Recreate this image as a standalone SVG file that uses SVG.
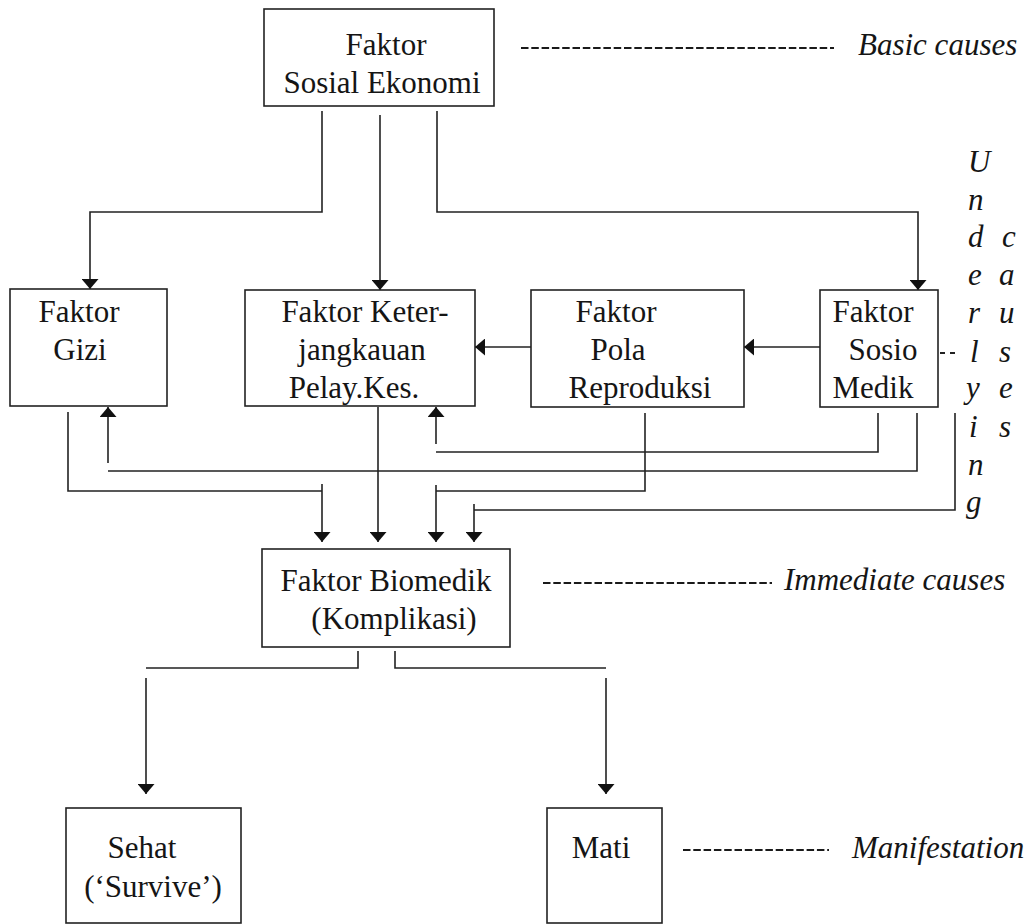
<svg xmlns="http://www.w3.org/2000/svg" width="1034" height="924" viewBox="0 0 1034 924">
<style>
.box{fill:#fff;stroke:#222;stroke-width:1.6}
.t{font-family:"Liberation Serif","Times New Roman",serif;font-size:31px;fill:#151515;text-anchor:middle}
.lbl{font-family:"Liberation Serif","Times New Roman",serif;font-size:31px;font-style:italic;fill:#151515}
.ln{fill:none;stroke:#222;stroke-width:1.6}
.dash{fill:none;stroke:#1a1a1a;stroke-width:2;stroke-dasharray:7.5 2.8}
</style>
<defs>
<marker id="ah" markerUnits="userSpaceOnUse" markerWidth="10" markerHeight="17" viewBox="0 0 10 17" refX="10" refY="8.5" orient="auto">
<path d="M0,0 L10,8.5 L0,17 Z" fill="#111"/>
</marker>
</defs>
<rect width="1034" height="924" fill="#fff"/>

<g id="connectors">
<path class="ln" d="M322,111 V212 H90 V289" marker-end="url(#ah)"/>
<path class="ln" d="M380,115 V290" marker-end="url(#ah)"/>
<path class="ln" d="M437,111 V212 H918 V290" marker-end="url(#ah)"/>
<path class="ln" d="M531,347 H475" marker-end="url(#ah)"/>
<path class="ln" d="M820,347 H744" marker-end="url(#ah)"/>
<path class="ln" d="M68,412 V491 H322"/>
<path class="ln" d="M322,484 V542" marker-end="url(#ah)"/>
<path class="ln" d="M378,407 V542" marker-end="url(#ah)"/>
<path class="ln" d="M645,413 V491 H436"/>
<path class="ln" d="M436,485 V542" marker-end="url(#ah)"/>
<path class="ln" d="M955,413 V510 H474"/>
<path class="ln" d="M474,504 V542" marker-end="url(#ah)"/>
<path class="ln" d="M917,413 V471 H108"/>
<path class="ln" d="M108,463 V407" marker-end="url(#ah)"/>
<path class="ln" d="M878,413 V452 H436"/>
<path class="ln" d="M436,444 V407" marker-end="url(#ah)"/>
<path class="ln" d="M940,353 H955" style="stroke-width:2;stroke-dasharray:5 5"/>
<path class="ln" d="M358,651 V668 H146"/>
<path class="ln" d="M146,678 V794" marker-end="url(#ah)"/>
<path class="ln" d="M395,651 V668 H606"/>
<path class="ln" d="M606,678 V794" marker-end="url(#ah)"/>
</g>

<g id="node-sosial-ekonomi">
<rect class="box" x="264" y="9" width="230" height="97"/>
<text class="t" x="386" y="55">Faktor</text>
<text class="t" x="382" y="93">Sosial Ekonomi</text>
</g>
<g id="node-gizi">
<rect class="box" x="10" y="289" width="157" height="117"/>
<text class="t" x="79" y="322">Faktor</text>
<text class="t" x="80" y="360">Gizi</text>
</g>
<g id="node-keterjangkauan">
<rect class="box" x="245" y="290" width="230" height="116"/>
<text class="t" x="365" y="322">Faktor Keter-</text>
<text class="t" x="362" y="360">jangkauan</text>
<text class="t" x="354" y="398">Pelay.Kes.</text>
</g>
<g id="node-pola-reproduksi">
<rect class="box" x="531" y="290" width="213" height="117"/>
<text class="t" x="616" y="322">Faktor</text>
<text class="t" x="618" y="360">Pola</text>
<text class="t" x="640" y="398">Reproduksi</text>
</g>
<g id="node-sosio-medik">
<rect class="box" x="820" y="290" width="118" height="117"/>
<text class="t" x="873" y="322">Faktor</text>
<text class="t" x="883" y="360">Sosio</text>
<text class="t" x="873" y="398">Medik</text>
</g>
<g id="node-biomedik">
<rect class="box" x="262" y="549" width="248" height="98"/>
<text class="t" x="386" y="591">Faktor Biomedik</text>
<text class="t" x="394" y="629">(Komplikasi)</text>
</g>
<g id="node-sehat">
<rect class="box" x="66" y="808" width="175" height="115"/>
<text class="t" x="142" y="858">Sehat</text>
<text class="t" x="153" y="897">(‘Survive’)</text>
</g>
<g id="node-mati">
<rect class="box" x="547" y="808" width="115" height="115"/>
<text class="t" x="601" y="858">Mati</text>
</g>

<g id="labels">
<path class="dash" d="M521,48 H834"/>
<text class="lbl" x="858" y="55">Basic causes</text>
<path class="dash" d="M543,583 H772"/>
<text class="lbl" x="784" y="590">Immediate causes</text>
<path class="dash" d="M683,850 H829"/>
<text class="lbl" x="852" y="858">Manifestation</text>
<g>
<text class="lbl" x="968" y="172">U</text>
<text class="lbl" x="968" y="210">n</text>
<text class="lbl" x="968" y="247">d</text>
<text class="lbl" x="968" y="285">e</text>
<text class="lbl" x="968" y="323">r</text>
<text class="lbl" x="970" y="362">l</text>
<text class="lbl" x="966" y="398">y</text>
<text class="lbl" x="969" y="437">i</text>
<text class="lbl" x="968" y="475">n</text>
<text class="lbl" x="966" y="512">g</text>
<text class="lbl" x="1002" y="247">c</text>
<text class="lbl" x="999" y="285">a</text>
<text class="lbl" x="999" y="323">u</text>
<text class="lbl" x="999" y="362">s</text>
<text class="lbl" x="999" y="398">e</text>
<text class="lbl" x="999" y="437">s</text>
</g>
</g>
</svg>
